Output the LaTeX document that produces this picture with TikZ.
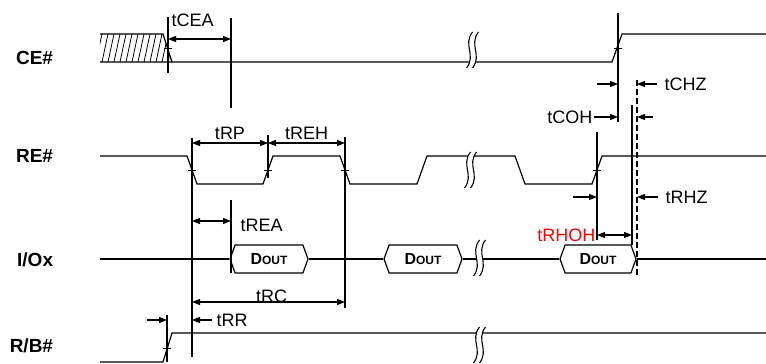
\documentclass[tikz,border=0pt]{standalone}
\usepackage{fontspec}
\setmainfont{Liberation Sans}
\usetikzlibrary{arrows.meta, shapes.symbols, positioning}

\tikzset{
  brk/.pic={
    \draw[white, line width=6pt] (5.5,-18) .. controls (-4.5,-5) and (9.5,5) .. (-0.5,18);
    \draw[line width=1.1pt] (2.5,-18) .. controls (-7.5,-5) and (6.5,5) .. (-3.5,18)
                            (8.5,-18) .. controls (-1.5,-5) and (12.5,5) .. (2.5,18);
  }
}

\begin{document}
\begin{tikzpicture}[x=1pt, y=-1pt, line width=1.2pt,
    >={Triangle[length=8pt, width=6pt]},
    lbl/.style={font=\fontsize{19}{22}\selectfont\bfseries, anchor=east},
    tm/.style={font=\fontsize{18}{21}\selectfont, inner sep=1pt},
    dout/.style={draw, signal, signal to=east and west, signal pointer angle=140,
                 minimum width=78pt, minimum height=28pt, inner sep=0pt,
                 font=\fontsize{16}{17}\selectfont\bfseries},
    tick/.style={line width=1pt}]
  \useasboundingbox (0,0) rectangle (766,364);

  \node[lbl] (ce) at (57,58) {CE\#};
  \node[lbl] (re) at (57,156) {RE\#};
  \node[lbl] (io) at (57,260) {I/Ox};
  \node[lbl] (rb) at (57,346) {R/B\#};

  % CE#
  \begin{scope}
    \clip (100,34) -- (163,34) -- (172,62) -- (100,62) -- cycle;
    \foreach \i in {0,...,12}
      \draw[line width=0.8pt] (96+6*\i,62) -- (102+6*\i,34);
  \end{scope}
  \draw (100,34) -- (163,34) -- (172,62);
  \draw (100,62) -- (612,62) -- (622,34) -- (766,34);

  % RE#
  \draw (100,156) -- (187,156) -- (197,184) -- (263,184) -- (273,156) -- (340,156)
    -- (350,184) -- (417,184) -- (427,156) -- (515,156) -- (525,184) -- (592,184)
    -- (602,156) -- (766,156);

  % I/Ox
  \node[dout] (d1) at (269,259) {D{\fontsize{12}{13}\selectfont OUT}};
  \node[dout] (d2) at (423,259) {D{\fontsize{12}{13}\selectfont OUT}};
  \node[dout, minimum width=76pt] (d3) at (598,259) {D{\fontsize{12}{13}\selectfont OUT}};
  \draw (100,259) -- (d1.west) (d1.east) -- (d2.west) (d2.east) -- (d3.west)
        (d3.east) -- (766,259);

  % R/B#
  \draw (100,362) -- (163,362) -- (172,333) -- (766,333);

  \pic at (470,50) {brk};
  \pic at (468,170) {brk};
  \pic at (477,258) {brk};
  \pic at (477,345) {brk};

  % timing marks
  \coordinate (tce) at (168,0);
  \coordinate (tb) at (231,0);
  \coordinate (t1) at (192,0);
  \coordinate (t2) at (268,0);
  \coordinate (t3) at (345,0);
  \coordinate (t4) at (597,0);
  \coordinate (t5) at (618,0);
  \coordinate (t6) at (632,0);
  \coordinate (t7) at (637,0);
  \coordinate (trb) at (167,0);

  \draw (tce |- 0,17) -- (tce |- 0,73)
        (tb |- 0,18) -- (tb |- 0,108)
        (t1 |- 0,138) -- (t1 |- 0,357)
        (t2 |- 0,135) -- (t2 |- 0,178)
        (t3 |- 0,137) -- (t3 |- 0,308)
        (tb |- 0,200) -- (tb |- 0,273)
        (t4 |- 0,132) -- (t4 |- 0,240)
        (t5 |- 0,13) -- (t5 |- 0,122)
        (t6 |- 0,105) -- (t6 |- 0,245)
        (trb |- 0,315) -- (trb |- 0,362);
  \draw[dash pattern=on 6pt off 3pt] (t7 |- 0,80) -- (t7 |- 0,275);

  \foreach \x/\y in {168/48, 618/48, 192/170, 268/170, 345/170, 597/170, 167/348}
    \draw[tick] (\x-4,\y) -- (\x+4,\y);

  % timings
  \draw[<->] (tce |- 0,39) -- (tb |- 0,39);
  \node[tm, anchor=west] (lcea) at (170,20) {tCEA};
  \draw[<->] (t1 |- 0,143) -- node[tm, above=2pt] (lrp) {tRP} (t2 |- 0,143);
  \draw[<->] (t2 |- 0,143) -- node[tm, above=2pt] (lreh) {tREH} (t3 |- 0,143);
  \draw[<->] (t1 |- 0,221) -- (tb |- 0,221);
  \node[tm, anchor=west] (lrea) at (239,225) {tREA};
  \draw[<->] (t1 |- 0,302) -- node[tm, anchor=base, xshift=3pt] (lrc) {tRC} (t3 |- 0,302);

  \draw[<-] (trb |- 0,320) -- +(-20,0);
  \draw[<-] (t1 |- 0,320) -- +(20,0) node[tm, anchor=west, xshift=3pt] (lrr) {tRR};

  \draw[<-] (t5 |- 0,84) -- +(-21,0);
  \draw[<-] (t7 |- 0,84) -- +(20,0) node[tm, anchor=west, xshift=6pt] (lchz) {tCHZ};
  \draw[<-] (t5 |- 0,117) -- +(-24,0) node[tm, anchor=east] (lcoh) {tCOH};
  \draw[<-] (t7 |- 0,117) -- +(16,0);

  \draw[<-] (t4 |- 0,197) -- +(-24,0);
  \draw[<-] (t7 |- 0,197) -- +(21,0) node[tm, anchor=west, xshift=6pt] (lrhz) {tRHZ};
  \draw[<->] (t4 |- 0,235) -- (t6 |- 0,235);
  \node[tm, anchor=east, text=red] (lrhoh) at (597,235) {tRHOH};
\end{tikzpicture}
\end{document}
